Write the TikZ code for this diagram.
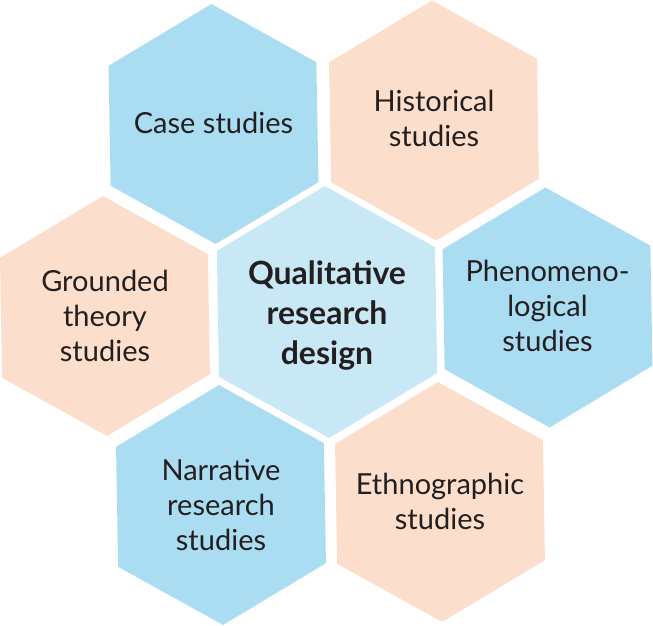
\documentclass[tikz,border=0pt]{standalone}
\usepackage{fontspec}
\setmainfont{Lato}
\usetikzlibrary{shapes.geometric}
\definecolor{hexblue}{RGB}{170,221,241}
\definecolor{hexpeach}{RGB}{251,222,203}
\definecolor{hexcenter}{RGB}{201,232,245}
\definecolor{txt}{RGB}{35,31,32}
\tikzset{
  hexshape/.style={regular polygon, regular polygon sides=6, shape border rotate=31,
    minimum size=240pt, inner sep=0pt, draw=none},
  bluehex/.style={hexshape, fill=hexblue},
  peachhex/.style={hexshape, fill=hexpeach},
  centerhex/.style={hexshape, fill=hexcenter, minimum size=252pt},
  lbl/.style={align=center, text=txt, inner sep=0pt, font=\fontsize{29}{35}\selectfont},
  clbl/.style={align=center, text=txt, inner sep=0pt, font=\fontsize{32}{40}\selectfont\bfseries},
}
\begin{document}
\begin{tikzpicture}[x=1pt,y=-1pt]
\useasboundingbox (0,0) rectangle (653,626);
\node[bluehex]   (hcase)  at (213.5,124) {};
\node[peachhex]  (hhist)  at (434,120.5) {};
\node[peachhex]  (hgrnd)  at (105,316) {};
\node[centerhex] (hcent)  at (327,312) {};
\node[bluehex]   (hphen)  at (547.5,307.5) {};
\node[bluehex]   (hnarr)  at (221,505) {};
\node[peachhex]  (hethn)  at (440,502) {};

\node[lbl]  (tcase) at (213.5,122.5) {Case studies};
\node[lbl]  (thist) at (434,118.5) {Historical\\studies};
\node[lbl]  (tgrnd) at (105,316) {Grounded\\theory\\studies};
\node[clbl] (tcent) at (327,315) {Qualitative\\research\\design};
\node[lbl]  (tphen) at (547.5,306) {Phenomeno-\\logical\\studies};
\node[lbl]  (tnarr) at (221,505) {Narrative\\research\\studies};
\node[lbl]  (tethn) at (440,501.5) {Ethnographic\\studies};
\end{tikzpicture}
\end{document}
